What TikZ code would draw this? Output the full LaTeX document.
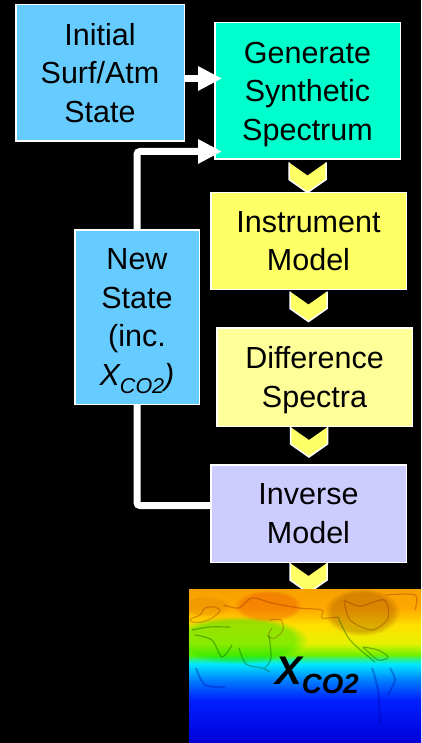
\documentclass[tikz,border=0pt]{standalone}
\usepackage{fontspec}
\setmainfont{Liberation Sans}
\usetikzlibrary{calc}
\usetikzlibrary{arrows.meta}
\usetikzlibrary{fadings}
\definecolor{stateblue}{HTML}{66CCFF}
\definecolor{genteal}{HTML}{00FFCC}
\definecolor{instyellow}{HTML}{FFFF66}
\definecolor{diffyellow}{HTML}{FFFF99}
\definecolor{invlilac}{HTML}{CCCCFF}
\definecolor{mapa}{HTML}{0000D8}
\definecolor{mapb}{HTML}{0020FF}
\definecolor{mapc}{HTML}{0080FF}
\definecolor{mapd}{HTML}{00E8FF}
\definecolor{mape}{HTML}{20F0A0}
\definecolor{mapf}{HTML}{70F000}
\definecolor{mapg}{HTML}{E8F000}
\definecolor{maph}{HTML}{FFE000}
\definecolor{mapi}{HTML}{FFA800}
\definecolor{mapj}{HTML}{F8A000}
\pgfdeclareverticalshading{mapfade}{100bp}{
color(0bp)=(mapa);
color(25bp)=(mapa);
color(39bp)=(mapb);
color(45.5bp)=(mapc);
color(50.7bp)=(mapd);
color(52bp)=(mape);
color(53.6bp)=(mapf);
color(57.5bp)=(mapg);
color(63.3bp)=(maph);
color(68.8bp)=(mapi);
color(75bp)=(mapj);
color(100bp)=(mapj)}
\tikzset{
box/.style={draw=white,line width=1.5pt,inner sep=0pt,align=center,text=black,
  font=\fontsize{30.5}{38.5}\selectfont},
flow/.style={draw=white,line width=7pt,rounded corners=3pt},
flowhead/.style={flow,-{Triangle[width=23pt,length=24pt]}},
blotch/.style={path fading=circle with fuzzy edge 20 percent},
coast/.style={draw=black!60!red,line width=1.2pt,opacity=.25,smooth},
coastgreen/.style={draw=green!35!black,line width=1.2pt,opacity=.4,smooth},
coastblue/.style={draw=blue!60!black,line width=2pt,opacity=.3,smooth},
chevron/.pic={
\fill[instyellow] (-18.5,0)--(0,13)--(18.5,0)--(18.5,17)--(0,30)--(-18.5,17)--cycle;
\draw[white,line width=1.5pt] (-18.5,0)--(-18.5,17)--(0,30)--(18.5,17)--(18.5,0);
}
}
\begin{document}
\begin{tikzpicture}[x=1pt,y=-1pt]
\useasboundingbox (0,0) rectangle (421,743);
\fill[black] (0,0) rectangle (421,743);
%%% BOXES %%%
\node[box,fill=stateblue,minimum width=168.5pt,minimum height=136.5pt] (init) at (100,73) {Initial\\Surf/Atm\\State};
\node[box,fill=genteal,minimum width=185.5pt,minimum height=136.5pt] (gen) at (307.5,91) {Generate\\Synthetic\\\smash{Spectrum}};
\node[box,fill=instyellow,minimum width=195.5pt,minimum height=96.5pt] (inst) at (308.5,241) {Instrument\\Model};
\node[box,fill=diffyellow,minimum width=195.5pt,minimum height=98.5pt] (diff) at (314.5,377) {Difference\\\smash{Spectra}};
\node[box,fill=invlilac,minimum width=195.5pt,minimum height=97.5pt] (inv) at (308.5,513.5) {Inverse\\Model};
\node[box,fill=stateblue,minimum width=124.5pt,minimum height=174.5pt] (new) at (137,317) {New\\State\\(inc.\\\smash{\textit{X\raisebox{-8pt}{\fontsize{21.5}{21.5}\selectfont CO2})}}};
%%% CHEVRONS %%%
\pic at ($(gen.south)+(0,2.5)$) {chevron};
\pic at ($(inst.south)+(0,1.5)$) {chevron};
\pic at ($(diff.south)+(-5.5,0)$) {chevron};
\pic at ($(inv.south)+(0,0)$) {chevron};
%%% MAP %%%
\node[minimum width=232pt,minimum height=154pt,inner sep=0pt,shading=mapfade] (xmap) at (305,666) {};
\begin{scope}
\clip (xmap.north west) rectangle (xmap.south east);
\fill[green!90!black,opacity=.4,blotch] (238,640) ellipse (70 and 24);
\fill[red!85!black,opacity=.2,blotch] (268,606) ellipse (34 and 16);
\fill[orange!60!black,opacity=.35,blotch] (362,612) ellipse (38 and 24);
\fill[orange!70!black,opacity=.15,blotch] (205,606) ellipse (25 and 10);
\draw[coast] plot coordinates {(190,619) (200,615) (205,608) (215,607) (220,611) (212,618) (202,622) (192,622) (190,619)};
\draw[coast] plot coordinates {(224,605) (239,608) (252,598) (272,603) (299,608) (322,610) (322,618) (338,617)};
\draw[coastgreen] plot coordinates {(338,617) (350,640) (375,662)};
\draw[coast] plot coordinates {(270,620) (281,620) (283,630) (275,638) (268,636) (272,628)};
\draw[coastgreen] plot coordinates {(192,630) (209,627) (230,627)};
\draw[coastgreen] plot coordinates {(195,635) (212,640) (222,657) (232,645)};
\draw[coastgreen] plot coordinates {(239,648) (246,664) (262,668) (270,672)};
\draw[coastgreen] plot coordinates {(269,635) (271,658) (265,668)};
\draw[coast] plot coordinates {(344,600) (360,606) (384,600) (388,618) (372,630) (350,620) (344,600)};
\draw[coastgreen] plot coordinates {(363,647) (378,650) (388,657) (378,660) (363,647)};
\draw[coast] plot coordinates {(385,595) (415,595) (415,610)};
\draw[coastblue] plot coordinates {(196,668) (205,685) (225,687)};
\draw[coastblue] plot coordinates {(372,668) (378,690) (380,725)};
\draw[coastblue] plot coordinates {(390,668) (395,680) (388,695)};
\end{scope}
\node[anchor=base west,inner sep=0pt,text=black,font=\fontsize{40}{40}\selectfont\bfseries\itshape] (xco) at (275,684) {X\raisebox{-9pt}{\fontsize{27.6}{27.6}\selectfont CO2}};
%%% CONNECTORS %%%
\coordinate (genhi) at (222,78.5);
\coordinate (genlo) at (222,151.5);
\coordinate (invport) at (211,505.5);
\draw[flowhead] (init.east |- genhi) -- (genhi);
\draw[flowhead] (new.north) |- (genlo);
\draw[flow] (invport) -| (new.south);
\end{tikzpicture}
\end{document}
